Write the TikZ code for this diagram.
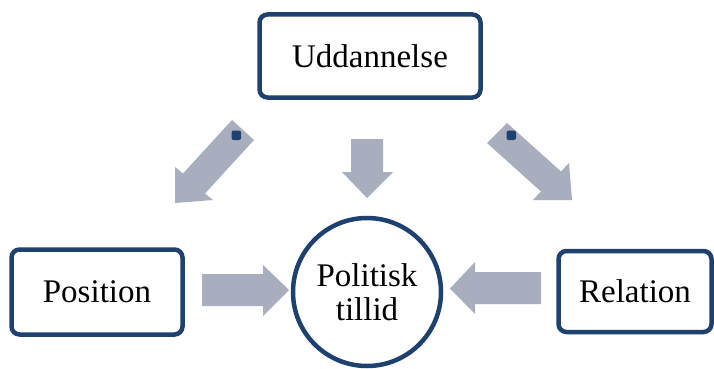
\documentclass[tikz,border=0pt]{standalone}
\usepackage{fontspec}
\setmainfont{Liberation Serif}
\definecolor{bordblue}{HTML}{1F4170}
\definecolor{arrgray}{HTML}{A8AEBE}
\begin{document}
\begin{tikzpicture}[x=1pt,y=-1pt,
  box/.style={draw=bordblue, line width=4.5pt, rounded corners=8pt, fill=white,
    font=\fontsize{33}{34}\selectfont, inner sep=0pt},
  circ/.style={draw=bordblue, line width=4.5pt, circle, fill=white,
    font=\fontsize{33}{34}\selectfont, inner sep=0pt, align=center},
  blockarrow/.style={fill=arrgray, draw=none},
  dot/.style={fill=bordblue, rounded corners=2pt}]
\useasboundingbox (0,0) rectangle (714,369);
\fill[white] (0,0) rectangle (714,369);
% block arrows
\fill[blockarrow] (232,120) -- (183,173.5) -- (175,167) -- (175,203) -- (213,200) -- (205,193.5) -- (254,140) -- cycle;
\fill[blockarrow] (507,123) -- (561,171.5) -- (569,163) -- (572,200) -- (533,200) -- (541,191.5) -- (487,143) -- cycle;
\fill[blockarrow] (351,139) -- (351,172) -- (342,172) -- (367,198) -- (393,172) -- (383,172) -- (383,139) -- cycle;
\fill[blockarrow] (202,274) -- (263,274) -- (263,265) -- (289,290) -- (263,316) -- (263,306) -- (202,306) -- cycle;
\fill[blockarrow] (541,272) -- (475,272) -- (475,262) -- (450,288.5) -- (475,314) -- (475,304) -- (541,304) -- cycle;
\fill[dot] (231.5,130.5) rectangle (241,140);
\fill[dot] (506.5,130.5) rectangle (516,140);
% nodes
\node[box, minimum width=221pt, minimum height=83pt] (udd) at (370,56) {Uddannelse};
\node[box, minimum width=171pt, minimum height=85pt] (pos) at (97,292) {Position};
\node[box, minimum width=153pt, minimum height=81pt] (rel) at (635,291.5) {Relation};
\node[circ, minimum size=148pt] (pol) at (367,292) {Politisk\\tillid};
\end{tikzpicture}
\end{document}
